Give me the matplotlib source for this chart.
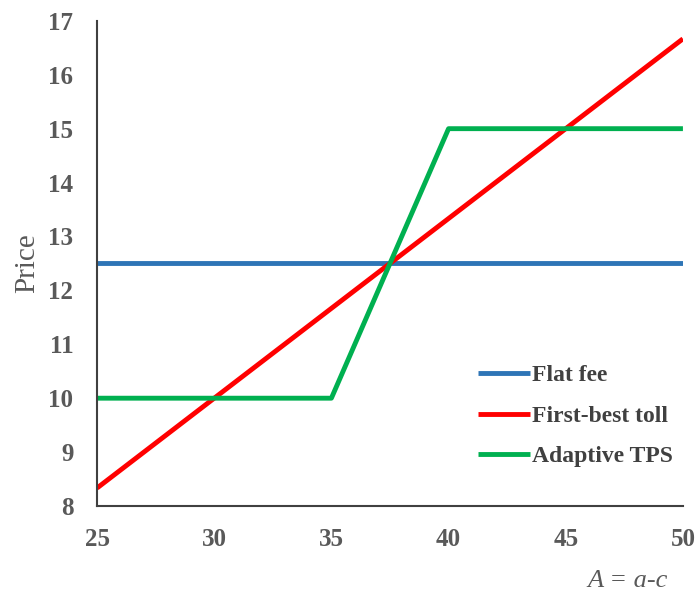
import matplotlib.pyplot as plt
import numpy as np

# data
x_flat = [25, 50]
y_flat = [12.5, 12.5]

x_fb = [25, 50]
y_fb = [8.333, 16.667]

x_tps = [25, 35, 40, 50]
y_tps = [10, 10, 15, 15]

x_ticks = [25, 30, 35, 40, 45, 50]
y_ticks = [8, 9, 10, 11, 12, 13, 14, 15, 16, 17]

plt.rcParams['font.family'] = ['Liberation Serif', 'DejaVu Serif']

fig = plt.figure(figsize=(6.99, 5.96), dpi=100)
ax = fig.add_axes([0.1388, 0.151, 0.8382, 0.814])

ax.plot(x_flat, y_flat, color='#2E75B6', lw=3.5, label='Flat fee', solid_capstyle='butt')
ax.plot(x_fb, y_fb, color='#FF0000', lw=3.5, label='First-best toll', solid_capstyle='butt')
ax.plot(x_tps, y_tps, color='#00B050', lw=3.5, label='Adaptive TPS', solid_capstyle='butt')

ax.set_xlim(25, 50)
ax.set_ylim(8, 17)
ax.set_xticks(x_ticks)
ax.set_yticks(y_ticks)
ax.tick_params(length=0, labelsize=18, labelcolor='#595959')
ax.tick_params(axis='y', pad=17)
ax.tick_params(axis='x', pad=16)
for lbl in ax.get_xticklabels() + ax.get_yticklabels():
    lbl.set_fontweight('bold')

for s in ['top', 'right']:
    ax.spines[s].set_visible(False)
for s in ['left', 'bottom']:
    ax.spines[s].set_color('#404040')
    ax.spines[s].set_linewidth(1.5)

ax.set_ylabel('Price', fontsize=21, color='#595959', labelpad=6)
fig.text(0.956, 0.015, 'A = a-c', fontsize=19, color='#595959', ha='right',
         fontstyle='italic')

leg = ax.legend(loc='lower left', bbox_to_anchor=(0.651, 0.08), frameon=False,
                prop={'size': 17, 'weight': 'bold'}, handlelength=2.2,
                handletextpad=0.05, labelspacing=0.8, borderpad=0,
                borderaxespad=0)
for t in leg.get_texts():
    t.set_color('#404040')

fig.savefig('out.png', dpi=100)
